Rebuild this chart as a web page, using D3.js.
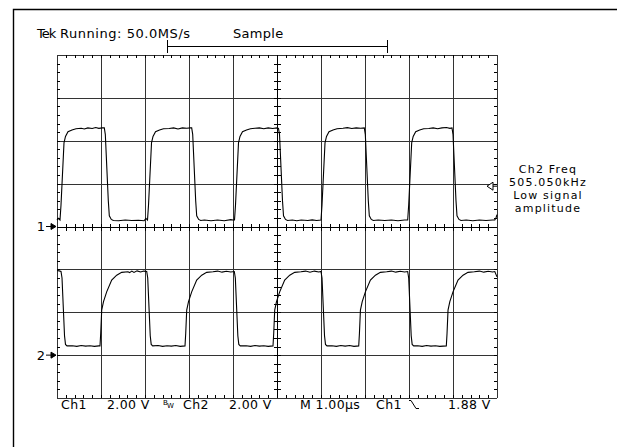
<!DOCTYPE html>
<html>
<head>
<meta charset="utf-8">
<script src="https://cdn.jsdelivr.net/npm/d3@7"></script>
<style>
body { margin: 0; background: #fff; }
svg { display: block; }
text { font-family: "DejaVu Sans", sans-serif; fill: #000; }
</style>
</head>
<body>
<script>
// waveform samples: [time in us, volts]
var ch1Wave = [
  [0, 0.30], [0.03, 0.38], [0.068, 0.30],
  [0.091, 1.0], [0.159, 3.9], [0.193, 4.2], [0.250, 4.42], [0.341, 4.50], [0.432, 4.56],
  [0.55, 4.58], [0.62, 4.55], [0.70, 4.60], [0.80, 4.57], [0.88, 4.62], [0.95, 4.58], [1.03, 4.60], [1.075, 4.60],
  [1.098, 4.3], [1.166, 1.2], [1.189, 0.5], [1.234, 0.33], [1.280, 0.28],
  [1.40, 0.27], [1.55, 0.30], [1.70, 0.28], [1.85, 0.29], [1.98, 0.27], [2.02, 0.38], [2.057, 0.30],
  [2.080, 1.0], [2.148, 3.9], [2.182, 4.2], [2.239, 4.42], [2.330, 4.50], [2.421, 4.56],
  [2.55, 4.57], [2.65, 4.60], [2.75, 4.55], [2.85, 4.60], [2.95, 4.58], [3.03, 4.60], [3.061, 4.60],
  [3.084, 4.3], [3.152, 1.2], [3.175, 0.5], [3.220, 0.33], [3.266, 0.28],
  [3.35, 0.30], [3.50, 0.27], [3.65, 0.30], [3.80, 0.27], [3.95, 0.32], [4.00, 0.30], [4.034, 0.30],
  [4.057, 1.0], [4.125, 3.9], [4.159, 4.2], [4.216, 4.42], [4.307, 4.50], [4.398, 4.56],
  [4.50, 4.58], [4.60, 4.60], [4.70, 4.56], [4.80, 4.60], [4.90, 4.57], [5.00, 4.60], [5.034, 4.58],
  [5.057, 4.3], [5.125, 1.2], [5.148, 0.5], [5.193, 0.33], [5.239, 0.28],
  [5.35, 0.30], [5.45, 0.27], [5.55, 0.30], [5.70, 0.28], [5.80, 0.31], [5.90, 0.28], [6.00, 0.30],
  [6.023, 1.0], [6.091, 3.9], [6.125, 4.2], [6.182, 4.42], [6.273, 4.50], [6.364, 4.56],
  [6.50, 4.58], [6.60, 4.61], [6.70, 4.57], [6.80, 4.60], [6.90, 4.58], [6.984, 4.60],
  [7.007, 4.3], [7.075, 1.2], [7.098, 0.5], [7.143, 0.33], [7.189, 0.28],
  [7.30, 0.30], [7.45, 0.28], [7.60, 0.30], [7.75, 0.27], [7.90, 0.30], [7.97, 0.30],
  [7.993, 1.0], [8.061, 3.9], [8.095, 4.2], [8.152, 4.42], [8.243, 4.50], [8.334, 4.56],
  [8.45, 4.57], [8.55, 4.60], [8.65, 4.56], [8.75, 4.60], [8.85, 4.62], [8.93, 4.58], [8.977, 4.60],
  [9.000, 4.3], [9.068, 1.2], [9.091, 0.5], [9.136, 0.33], [9.182, 0.28],
  [9.30, 0.30], [9.45, 0.27], [9.60, 0.30], [9.75, 0.28], [9.90, 0.30], [9.95, 0.30],
  [9.98, 0.42], [10.0, 0.55]
];

var ch2Wave = [
  [0, 3.95], [0.05, 3.93], [0.091, 3.90],
  [0.114, 3.6], [0.171, 0.9], [0.193, 0.5], [0.227, 0.43],
  [0.35, 0.44], [0.45, 0.41], [0.55, 0.45], [0.65, 0.42], [0.75, 0.44], [0.85, 0.41], [0.95, 0.43], [0.977, 0.43],
  [0.993, 1.0], [1.016, 2.1], [1.057, 2.5], [1.129, 2.95], [1.243, 3.5], [1.357, 3.73], [1.470, 3.86], [1.613, 3.89],
  [1.65, 3.85], [1.70, 3.92], [1.75, 3.86], [1.82, 3.93], [1.90, 3.88], [1.97, 3.92], [2.039, 3.90],
  [2.062, 3.6], [2.119, 0.9], [2.141, 0.5], [2.175, 0.43],
  [2.30, 0.45], [2.40, 0.41], [2.50, 0.44], [2.60, 0.42], [2.70, 0.45], [2.80, 0.41], [2.909, 0.43],
  [2.925, 1.0], [2.948, 2.1], [2.989, 2.5], [3.061, 2.95], [3.175, 3.5], [3.289, 3.73], [3.402, 3.86], [3.545, 3.89],
  [3.65, 3.92], [3.75, 3.87], [3.85, 3.91], [3.95, 3.88], [4.030, 3.90],
  [4.053, 3.6], [4.110, 0.9], [4.132, 0.5], [4.166, 0.43],
  [4.30, 0.44], [4.40, 0.41], [4.50, 0.45], [4.60, 0.42], [4.70, 0.44], [4.80, 0.41], [4.909, 0.43],
  [4.925, 1.0], [4.948, 2.1], [4.989, 2.5], [5.061, 2.95], [5.175, 3.5], [5.289, 3.73], [5.402, 3.86], [5.545, 3.89],
  [5.65, 3.92], [5.75, 3.87], [5.85, 3.92], [5.95, 3.88], [6.000, 3.90],
  [6.023, 3.6], [6.080, 0.9], [6.102, 0.5], [6.136, 0.43],
  [6.25, 0.44], [6.35, 0.41], [6.45, 0.45], [6.55, 0.42], [6.65, 0.45], [6.75, 0.41], [6.857, 0.43],
  [6.873, 1.0], [6.896, 2.1], [6.937, 2.5], [7.009, 2.95], [7.123, 3.5], [7.237, 3.73], [7.350, 3.86], [7.493, 3.89],
  [7.60, 3.92], [7.70, 3.87], [7.80, 3.91], [7.90, 3.88], [7.970, 3.90],
  [7.993, 3.6], [8.050, 0.9], [8.072, 0.5], [8.106, 0.43],
  [8.20, 0.44], [8.30, 0.41], [8.40, 0.45], [8.50, 0.42], [8.60, 0.44], [8.70, 0.41], [8.848, 0.43],
  [8.864, 1.0], [8.887, 2.1], [8.928, 2.5], [9.000, 2.95], [9.114, 3.5], [9.228, 3.73], [9.341, 3.86], [9.484, 3.89],
  [9.60, 3.92], [9.70, 3.87], [9.80, 3.91], [9.90, 3.88], [9.95, 3.90], [10.0, 3.65]
];

var statusText = ["Tek", " Running: 50.0MS/s", "Sample"];
var readoutLines = ["Ch2 Freq", "505.050kHz", "Low signal", "amplitude"];
var bottomLabels = ["Ch1", "2.00 V", "Ch2", "2.00 V", "M 1.00\u00b5s", "Ch1", "1.88 V"];
var channelMarks = ["1", "2"];
var triggerLevel = 1.88;   // volts on ch1
var recordSpan = [2.5, 7.5]; // visible part of record, in divisions

var width = 617, height = 447;

var svg = d3.select("body").append("svg")
    .attr("width", width)
    .attr("height", height);

// screen = 10 x 8 divisions, 1 us/div, 2 V/div
var x = d3.scaleLinear().domain([0, 10]).range([57, 497]);
var gy = d3.scaleLinear().domain([0, 8]).range([55, 398]);
var y1 = d3.scaleLinear().domain([-8, 8]).range([398, 55]);
var y2 = d3.scaleLinear().domain([-2, 14]).range([398, 55]);

// outer frame (cut by the picture edge)
svg.append("path")
    .attr("d", "M13.5,447V9.5H617")
    .attr("fill", "none")
    .attr("stroke", "#000")
    .attr("stroke-width", 1.4);

// graticule
var grid = svg.append("g")
    .attr("stroke", "#333")
    .attr("stroke-width", 1)
    .attr("shape-rendering", "crispEdges");

grid.selectAll(".vl").data(d3.range(0, 11)).enter().append("line")
    .attr("x1", function(d) { return x(d); })
    .attr("x2", function(d) { return x(d); })
    .attr("y1", gy(0)).attr("y2", gy(8));

grid.selectAll(".hl").data(d3.range(0, 9)).enter().append("line")
    .attr("y1", function(d) { return Math.round(gy(d)); })
    .attr("y2", function(d) { return Math.round(gy(d)); })
    .attr("x1", x(0)).attr("x2", x(10));

var ticks = svg.append("g")
    .attr("stroke", "#000")
    .attr("stroke-width", 1)
    .attr("shape-rendering", "crispEdges");

var hMinor = d3.range(1, 50).map(function(i) { return i / 5; });
var vMinor = d3.range(1, 40).map(function(i) { return i / 5; });
var cy = Math.round(gy(4)), cx = x(5);

hMinor.forEach(function(t) {
  var px = Math.round(x(t));
  ticks.append("line").attr("x1", px).attr("x2", px).attr("y1", gy(0)).attr("y2", gy(0) + 3);
  ticks.append("line").attr("x1", px).attr("x2", px).attr("y1", gy(8) - 3).attr("y2", gy(8));
  ticks.append("line").attr("x1", px).attr("x2", px).attr("y1", cy - 3).attr("y2", cy + 4);
});
vMinor.forEach(function(d) {
  var py = Math.round(gy(d));
  ticks.append("line").attr("y1", py).attr("y2", py).attr("x1", x(0)).attr("x2", x(0) + 3);
  ticks.append("line").attr("y1", py).attr("y2", py).attr("x1", x(10) - 3).attr("x2", x(10));
  ticks.append("line").attr("y1", py).attr("y2", py).attr("x1", cx - 3).attr("x2", cx + 4);
});
ticks.append("line").attr("x1", x(0)).attr("x2", x(10)).attr("y1", cy).attr("y2", cy);
ticks.append("line").attr("x1", cx).attr("x2", cx).attr("y1", gy(0)).attr("y2", gy(8));

// waveforms
var line1 = d3.line().x(function(d) { return x(d[0]); }).y(function(d) { return y1(d[1]); });
var line2 = d3.line().x(function(d) { return x(d[0]); }).y(function(d) { return y2(d[1]); });

svg.append("path").datum(ch1Wave)
    .attr("d", line1)
    .attr("fill", "none").attr("stroke", "#000").attr("stroke-width", 1.1);
svg.append("path").datum(ch2Wave)
    .attr("d", line2)
    .attr("fill", "none").attr("stroke", "#000").attr("stroke-width", 1.1);

// status line and record bracket
var st = svg.append("text").attr("x", 37).attr("y", 37.5).attr("font-size", 13);
st.append("tspan").attr("letter-spacing", -1).text(statusText[0]);
st.append("tspan").attr("letter-spacing", 0.55).text(statusText[1]);
svg.append("text").attr("x", 233).attr("y", 37.5).attr("font-size", 13)
    .attr("letter-spacing", 0.3).text(statusText[2]);

var bx0 = x(recordSpan[0]), bx1 = x(recordSpan[1]);
svg.append("path")
    .attr("d", "M" + bx0 + ",40V53M" + bx0 + ",46.5H" + bx1 + "M" + bx1 + ",40V53")
    .attr("fill", "none").attr("stroke", "#000").attr("stroke-width", 1)
    .attr("shape-rendering", "crispEdges");

// channel ground markers
[y1(0), y2(0)].forEach(function(py, i) {
  svg.append("text").attr("x", 45).attr("y", py + 4.5)
      .attr("text-anchor", "end").attr("font-size", 13).text(channelMarks[i]);
  svg.append("path")
      .attr("d", "M46," + py + "H55M51," + (py - 3) + "L56," + py + "L51," + (py + 3) + "Z")
      .attr("fill", "#000").attr("stroke", "#000").attr("stroke-width", 1);
});

// trigger level marker
var ty = y1(triggerLevel);
svg.append("path")
    .attr("d", "M487," + ty + "L493," + (ty - 4) + "L493," + (ty + 4) + "ZM493," + ty + "H497")
    .attr("fill", "#fff").attr("stroke", "#000").attr("stroke-width", 1);

// frequency readout
svg.append("g").selectAll("text").data(readoutLines).enter().append("text")
    .attr("x", 548)
    .attr("y", function(d, i) { return 173 + i * 13; })
    .attr("text-anchor", "middle")
    .attr("font-size", 11)
    .attr("letter-spacing", 1.2)
    .text(function(d) { return d; });

// bottom readouts
var bottomX = [61, 107, 183, 229, 300, 376, 448];
svg.append("g").selectAll("text").data(bottomLabels).enter().append("text")
    .attr("x", function(d, i) { return bottomX[i]; })
    .attr("y", 409)
    .attr("font-size", 12.5)
    .attr("letter-spacing", 0.4)
    .text(function(d) { return d; });

// bandwidth limit glyph
svg.append("text").attr("x", 163).attr("y", 405).attr("font-size", 7).text("B");
svg.append("text").attr("x", 167).attr("y", 408).attr("font-size", 7).text("W");

// falling edge slope glyph
svg.append("path")
    .attr("d", "M409,400.5H411L416,408.5H419")
    .attr("fill", "none").attr("stroke", "#000").attr("stroke-width", 1);
</script>
</body>
</html>
